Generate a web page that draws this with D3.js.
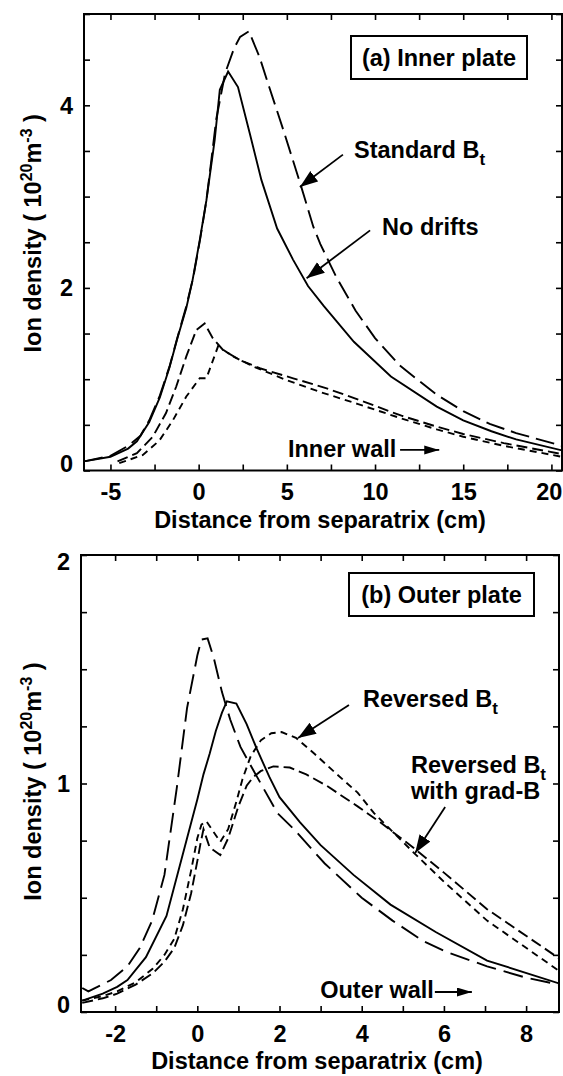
<!DOCTYPE html>
<html><head><meta charset="utf-8">
<script src="https://cdn.jsdelivr.net/npm/d3@7"></script>
<style>
body{margin:0;background:#fff}
svg{display:block}
text{font-family:"Liberation Sans",Arial,Helvetica,sans-serif;font-weight:bold;fill:#000}
</style>
</head><body>
<svg id="c" width="563" height="1076"></svg>
<script>
// ---------- Panel (a) Inner plate data (x: cm, y: 1e20 m^-3) ----------
const stdA_x = [-6.5, -5.0, -4.0, -3.3, -2.8, -2.2, -1.65, -1.2, -0.7, -0.3, 0.1, 0.44, 0.72, 1.0, 1.5, 2.0, 2.35, 2.85, 3.45, 4.0, 4.8, 5.75, 6.5, 6.9, 7.8, 8.9, 10.0, 11.4, 13.5, 15.0, 16.5, 18.0, 20.6];
const stdA_y = [0.10, 0.16, 0.27, 0.38, 0.55, 0.82, 1.14, 1.46, 1.80, 2.12, 2.55, 2.96, 3.40, 3.85, 4.35, 4.62, 4.75, 4.81, 4.53, 4.20, 3.73, 3.15, 2.67, 2.48, 2.12, 1.75, 1.45, 1.15, 0.83, 0.65, 0.51, 0.41, 0.27];
const noDriftA_x = [-6.5, -5.0, -4.0, -3.5, -2.8, -2.2, -1.65, -1.2, -0.7, -0.35, 0.06, 0.44, 0.91, 1.2, 1.67, 2.23, 2.9, 3.56, 4.45, 5.35, 6.2, 7.1, 8.8, 10.9, 13.5, 15.0, 16.6, 18.0, 20.6];
const noDriftA_y = [0.10, 0.15, 0.24, 0.32, 0.53, 0.80, 1.13, 1.45, 1.78, 2.08, 2.52, 2.96, 3.62, 4.17, 4.37, 4.20, 3.69, 3.18, 2.65, 2.31, 2.02, 1.80, 1.41, 1.03, 0.70, 0.55, 0.43, 0.34, 0.22];
const revA_x = [-4.6, -3.5, -2.6, -1.85, -1.27, -0.7, -0.13, 0.34, 0.8, 1.38, 2.33, 3.47, 5.36, 7.26, 9.15, 11.5, 13.5, 15.0, 17.3, 20.6];
const revA_y = [0.10, 0.19, 0.37, 0.63, 0.92, 1.25, 1.54, 1.61, 1.45, 1.32, 1.21, 1.12, 1.01, 0.90, 0.77, 0.60, 0.48, 0.40, 0.30, 0.18];
const gradA_x = [-4.5, -3.16, -2.22, -1.46, -0.7, 0.06, 0.44, 1.1, 1.95, 3.09, 4.98, 6.88, 9.0, 11.5, 13.5, 15.0, 17.3, 20.6];
const gradA_y = [0.08, 0.17, 0.33, 0.55, 0.81, 1.01, 1.01, 1.36, 1.25, 1.14, 0.99, 0.86, 0.73, 0.57, 0.45, 0.37, 0.27, 0.15];

// ---------- Panel (b) Outer plate data ----------
const stdB_x = [-2.8, -2.65, -2.1, -1.7, -1.4, -1.1, -0.8, -0.5, -0.25, 0.0, 0.1, 0.25, 0.4, 0.6, 0.8, 1.05, 1.45, 1.95, 2.35, 3.1, 4.0, 4.75, 5.5, 6.1, 7.05, 8.0, 8.8];
const stdB_y = [0.105, 0.09, 0.14, 0.20, 0.28, 0.40, 0.60, 0.98, 1.33, 1.56, 1.63, 1.635, 1.55, 1.40, 1.28, 1.16, 1.03, 0.87, 0.80, 0.65, 0.50, 0.40, 0.31, 0.26, 0.20, 0.15, 0.12];
const noDriftB_x = [-2.8, -2.3, -1.95, -1.7, -1.25, -0.75, -0.25, 0.0, 0.15, 0.3, 0.45, 0.6, 0.72, 0.95, 1.2, 1.45, 1.75, 2.0, 2.5, 3.0, 3.8, 4.7, 5.8, 7.05, 8.8];
const noDriftB_y = [0.05, 0.08, 0.11, 0.14, 0.24, 0.42, 0.76, 0.93, 1.04, 1.13, 1.23, 1.31, 1.36, 1.35, 1.26, 1.15, 1.03, 0.94, 0.83, 0.73, 0.60, 0.47, 0.35, 0.225, 0.125];
const revB_x = [-2.8, -2.3, -1.95, -1.5, -1.08, -0.8, -0.56, -0.35, -0.15, 0.0, 0.1, 0.22, 0.35, 0.56, 0.75, 0.95, 1.1, 1.3, 1.55, 1.8, 2.05, 2.4, 2.85, 3.4, 3.9, 4.3, 5.25, 6.0, 7.05, 8.8];
const revB_y = [0.05, 0.07, 0.09, 0.13, 0.19, 0.25, 0.32, 0.45, 0.62, 0.76, 0.82, 0.835, 0.80, 0.745, 0.80, 0.92, 1.02, 1.12, 1.19, 1.22, 1.225, 1.20, 1.13, 1.04, 0.96, 0.87, 0.70, 0.57, 0.40, 0.18];
const gradB_x = [-2.8, -2.3, -1.95, -1.5, -1.08, -0.8, -0.56, -0.35, -0.15, 0.0, 0.08, 0.15, 0.3, 0.56, 0.75, 1.0, 1.2, 1.37, 1.55, 1.85, 2.25, 2.65, 3.15, 3.9, 4.45, 5.25, 6.0, 7.05, 8.8];
const gradB_y = [0.04, 0.06, 0.08, 0.12, 0.17, 0.22, 0.28, 0.38, 0.52, 0.66, 0.74, 0.80, 0.72, 0.687, 0.76, 0.90, 0.99, 1.03, 1.055, 1.075, 1.07, 1.04, 0.99, 0.90, 0.83, 0.72, 0.61, 0.45, 0.235];

// ---------- Ticks ----------
const xTicksA = [-5, -2.5, 0, 2.5, 5, 7.5, 10, 12.5, 15, 17.5, 20];
const xLabelsA = [-5, 0, 5, 10, 15, 20];
const yTicksA = [0, 0.5, 1, 1.5, 2, 2.5, 3, 3.5, 4, 4.5, 5];
const yLabelsA = [0, 2, 4];
const xTicksB = [-2, -1, 0, 1, 2, 3, 4, 5, 6, 7, 8];
const xLabelsB = [-2, 0, 2, 4, 6, 8];
const yTicksB = [0, 0.25, 0.5, 0.75, 1, 1.25, 1.5, 1.75, 2];
const yLabelsB = [0, 1, 2];

const FS = 23.5;
const W = 563;
const svg = d3.select('#c');

const defs = svg.append('defs');
defs.append('marker').attr('id','ah').attr('markerUnits','userSpaceOnUse')
  .attr('markerWidth',20).attr('markerHeight',14).attr('refX',18).attr('refY',6.5)
  .attr('orient','auto')
  .append('path').attr('d','M0,0 L18,6.5 L0,13 Z').attr('fill','#000');
defs.append('marker').attr('id','ahs').attr('markerUnits','userSpaceOnUse')
  .attr('markerWidth',16).attr('markerHeight',10).attr('refX',15).attr('refY',4.5)
  .attr('orient','auto')
  .append('path').attr('d','M0,0 L15,4.5 L0,9 Z').attr('fill','#000');

function subText(g, x, y, main, sub) {
  const t = g.append('text').attr('x', x).attr('y', y).attr('font-size', FS);
  t.append('tspan').text(main);
  if (sub) t.append('tspan').attr('font-size', 17).attr('dy', 7).text(sub);
  return t;
}

function drawPanel(p) {
  const x = d3.scaleLinear().domain(p.xDomain).range([p.left, p.right]);
  const y = d3.scaleLinear().domain(p.yDomain).range([p.bottom, p.top]);
  const g = svg.append('g');

  g.append('clipPath').attr('id', p.id + 'clip').append('rect')
    .attr('x', p.left).attr('y', p.top).attr('width', p.right - p.left).attr('height', p.bottom - p.top);

  const line = d3.line().x(d => x(d[0])).y(d => y(d[1]));
  const lg = g.append('g').attr('clip-path', 'url(#' + p.id + 'clip)');
  p.series.forEach(s => {
    lg.append('path').datum(d3.zip(s.x, s.y))
      .attr('d', line).attr('fill', 'none').attr('stroke', '#000')
      .attr('stroke-width', 1.9).attr('stroke-dasharray', s.dash || null);
  });

  // axes with inward ticks
  const fmt = d => p.xLabels.includes(d) ? String(d) : '';
  const ax = g.append('g').attr('transform', `translate(0,${p.bottom})`)
    .call(d3.axisBottom(x).tickValues(p.xTicks).tickSize(-6).tickPadding(13).tickFormat(fmt));
  ax.selectAll('text').attr('font-size', FS).attr('font-family', null);
  // keep edge labels inside the page
  ax.selectAll('.tick').each(function(d) {
    const half = String(d).length * 6.6;
    const px = x(d);
    if (px + half > W - 1) d3.select(this).select('text').attr('x', (W - 1) - half - px);
  });
  g.append('g').attr('transform', `translate(0,${p.top})`)
    .call(d3.axisTop(x).tickValues(p.xTicks).tickSize(-6).tickFormat(''));
  g.append('g').attr('transform', `translate(${p.left},0)`)
    .call(d3.axisLeft(y).tickValues(p.yTicks).tickSize(-6).tickFormat(''));
  g.append('g').attr('transform', `translate(${p.right},0)`)
    .call(d3.axisRight(y).tickValues(p.yTicks).tickSize(-6).tickFormat(''));
  g.selectAll('.domain').remove();
  g.selectAll('.tick line').attr('stroke-width', 1.6);
  g.selectAll('g').attr('font-family', null);

  p.yLabels.forEach(v => {
    const yy = Math.max(p.top + 7, Math.min(p.bottom - 7, y(v)));
    g.append('text').attr('x', p.left - 11).attr('y', yy).attr('dy', '0.36em')
      .attr('text-anchor', 'end').attr('font-size', FS).text(String(v));
  });

  g.append('rect').attr('x', p.left).attr('y', p.top)
    .attr('width', p.right - p.left).attr('height', p.bottom - p.top)
    .attr('fill', 'none').attr('stroke', '#000').attr('stroke-width', 2);

  // axis titles
  g.append('text').attr('x', (p.left + p.right) / 2 - 3).attr('y', p.bottom + 57)
    .attr('text-anchor', 'middle').attr('font-size', FS).text('Distance from separatrix (cm)');
  const yt = g.append('text').attr('text-anchor', 'middle').attr('font-size', FS)
    .attr('transform', `translate(41,${(p.top + p.bottom) / 2 - p.ytOff}) rotate(-90)`);
  yt.append('tspan').text('Ion density ( 10');
  yt.append('tspan').attr('font-size', 16).attr('dy', -9).text('20');
  yt.append('tspan').attr('dy', 9).text('m');
  yt.append('tspan').attr('font-size', 16).attr('dy', -9).text('-3');
  yt.append('tspan').attr('dy', 9).text(' )');

  // legend box
  const bx = p.box;
  g.append('rect').attr('x', bx[0]).attr('y', bx[1]).attr('width', bx[2]).attr('height', bx[3])
    .attr('fill', '#fff').attr('stroke', '#000').attr('stroke-width', 2);
  g.append('text').attr('x', bx[0] + bx[2] / 2).attr('y', bx[1] + bx[3] / 2 + 8.5)
    .attr('text-anchor', 'middle').attr('font-size', FS).text(p.boxText);

  // annotations (positions in data units)
  p.labels.forEach(l => {
    l.lines.forEach((ln, i) => subText(g, x(l.x), y(l.y) + i * 26, ln[0], ln[1]));
  });
  p.arrows.forEach(a => {
    g.append('line').attr('x1', x(a.from[0])).attr('y1', y(a.from[1]))
      .attr('x2', x(a.to[0])).attr('y2', y(a.to[1]))
      .attr('stroke', '#000').attr('stroke-width', 1.8)
      .attr('marker-end', a.small ? 'url(#ahs)' : 'url(#ah)');
  });
}

drawPanel({
  id: 'a', left: 84, right: 562, top: 14, bottom: 470.5,
  xDomain: [-6.5, 20.6], yDomain: [0, 5], ytOff: 9,
  xTicks: xTicksA, xLabels: xLabelsA, yTicks: yTicksA, yLabels: yLabelsA,
  series: [
    {x: noDriftA_x, y: noDriftA_y, dash: null},
    {x: stdA_x, y: stdA_y, dash: '19,7'},
    {x: revA_x, y: revA_y, dash: '11,5'},
    {x: gradA_x, y: gradA_y, dash: '7,5'}
  ],
  box: [351, 36, 176, 43], boxText: '(a) Inner plate',
  labels: [
    {x: 8.81, y: 3.42, lines: [['Standard B', 't']]},
    {x: 10.4, y: 2.58, lines: [['No drifts', null]]},
    {x: 5.06, y: 0.15, lines: [['Inner wall', null]]}
  ],
  arrows: [
    {from: [8.18, 3.46], to: [5.74, 3.105]},
    {from: [9.72, 2.63], to: [6.12, 2.105]},
    {from: [11.42, 0.225], to: [13.64, 0.225], small: true}
  ]
});

drawPanel({
  id: 'b', left: 81, right: 559, top: 555, bottom: 1012,
  xDomain: [-2.83, 8.8], yDomain: [0, 2], ytOff: 2,
  xTicks: xTicksB, xLabels: xLabelsB, yTicks: yTicksB, yLabels: yLabelsB,
  series: [
    {x: noDriftB_x, y: noDriftB_y, dash: null},
    {x: stdB_x, y: stdB_y, dash: '20,8'},
    {x: gradB_x, y: gradB_y, dash: '11,5'},
    {x: revB_x, y: revB_y, dash: '7,5'}
  ],
  box: [349, 573, 185, 43], boxText: '(b) Outer plate',
  labels: [
    {x: 4.03, y: 1.336, lines: [['Reversed B', 't']]},
    {x: 5.2, y: 1.046, lines: [['Reversed B', 't'], ['with grad-B', null]]},
    {x: 2.99, y: 0.061, lines: [['Outer wall', null]]}
  ],
  arrows: [
    {from: [3.69, 1.344], to: [2.45, 1.199]},
    {from: [6.03, 0.897], to: [5.30, 0.696]},
    {from: [5.78, 0.0875], to: [6.68, 0.0875], small: true}
  ]
});
</script>
</body></html>
